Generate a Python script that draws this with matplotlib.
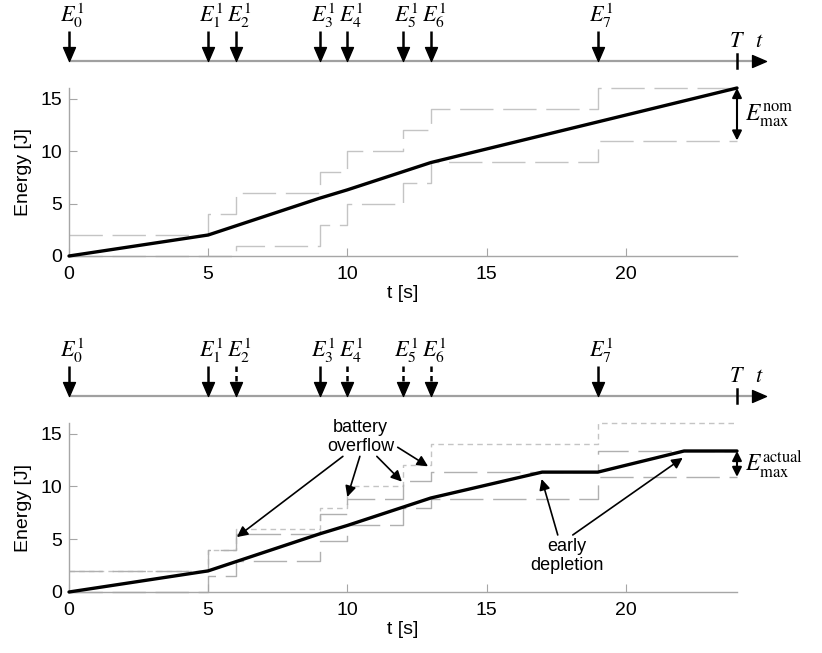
import matplotlib
matplotlib.use("Agg")
import matplotlib.pyplot as plt
from matplotlib.path import Path

plt.rcParams['font.family'] = ['Liberation Sans', 'DejaVu Sans']
plt.rcParams['mathtext.fontset'] = 'stix'

# ---------------- data ----------------
event_times = [0, 5, 6, 9, 10, 12, 13, 19]
event_labels = [r'$E_{%d}^{1}$' % i for i in range(8)]
bottom_dashed_events = [False, False, True, False, True, True, True, False]
horizon_T = 24

step_x = [0, 5, 6, 9, 10, 12, 13, 19, 24]
upper_nominal = [2, 4, 6, 8, 10, 12, 14, 16, 16]
lower_nominal = [0, 0, 1, 3, 5, 7, 9, 11, 11]
upper_actual = [2, 4, 5.5, 7.4, 8.8, 10.5, 11.35, 13.35, 13.35]
lower_actual = [0, 1.5, 2.9, 4.85, 6.3, 8.0, 8.85, 10.9, 10.9]

traj_nom_t = [0, 5, 9, 10, 13, 24]
traj_nom_e = [0, 2, 5.5, 6.3, 8.9, 16]
traj_act_t = [0, 5, 9, 10, 13, 17, 19, 22.1, 24]
traj_act_e = [0, 2, 5.5, 6.3, 8.9, 11.35, 11.35, 13.35, 13.35]

xticks = [0, 5, 10, 15, 20]
yticks = [0, 5, 10, 15]

overflow_text_pos = (10.48, 14.7)
overflow_starts = [(9.84, 12.84), (10.45, 12.84), (11.06, 12.84), (11.81, 13.7)]
overflow_targets = [(6.03, 5.2), (10.0, 9.0), (11.96, 10.45), (12.9, 11.9)]
depletion_text_pos = (17.88, 3.45)
depletion_starts = [(17.56, 5.4), (18.1, 5.4)]
depletion_targets = [(16.98, 10.7), (22.05, 12.7)]

# ---------------- figure ----------------
W, H = 822, 653
fig = plt.figure(figsize=(W / 100, H / 100), dpi=100)

AX_L, AX_R = 69, 737
def frac_rect(top_px, bot_px):
    return [AX_L / W, 1 - bot_px / H, (AX_R - AX_L) / W, (bot_px - top_px) / H]

SPINE = '#a6a6a6'
LIGHT = '#c4c4c4'
MID = '#b0b0b0'
LONG_DASH = (24, 7)
SHORT_DASH = (4, 3)

head_down = Path([(-0.43, 0.5), (0.43, 0.5), (0, -0.5), (-0.43, 0.5)],
                 [Path.MOVETO, Path.LINETO, Path.LINETO, Path.CLOSEPOLY])
head_right = Path([(-0.5, -0.43), (-0.5, 0.43), (0.5, 0), (-0.5, -0.43)],
                  [Path.MOVETO, Path.LINETO, Path.LINETO, Path.CLOSEPOLY])


def timeline(top_px, line_px, dashed_flags):
    ax = fig.add_axes(frac_rect(top_px, top_px + 90))
    ax.set_xlim(0, 24)
    ax.set_ylim(top_px + 90, top_px)
    ax.axis('off')
    x_end = 24.78
    ax.plot([0, x_end], [line_px, line_px], color='#a0a0a0', lw=1.6,
            clip_on=False, solid_capstyle='butt')
    ax.plot([x_end], [line_px], marker=head_right, ms=10, color='black',
            mec='black', clip_on=False, ls='none')
    for t, lab, dsh in zip(event_times, event_labels, dashed_flags):
        ls = (0, (2.2, 1.6)) if dsh else '-'
        ax.plot([t, t], [line_px - 30, line_px - 13], color='black', lw=1.8,
                ls=ls, clip_on=False, solid_capstyle='butt')
        ax.plot([t], [line_px - 7], marker=head_down, ms=10, color='black',
                mec='black', ls='none', clip_on=False)
        ax.text(t + 0.12, line_px - 31, lab, ha='center', va='bottom',
                fontsize=16, clip_on=False)
    ax.plot([horizon_T, horizon_T], [line_px - 7, line_px + 7], color='black',
            lw=1.8, clip_on=False)
    ax.text(horizon_T, line_px - 9, r'$T$', ha='center', va='bottom',
            fontsize=16, clip_on=False)
    ax.text(24.8, line_px - 9, r'$t$', ha='center', va='bottom',
            fontsize=16, clip_on=False)
    return ax


def energy_axes(top_px, bot_px):
    ax = fig.add_axes(frac_rect(top_px, bot_px))
    ax.set_xlim(0, 24)
    ax.set_ylim(0, 16)
    for s in ['top', 'right']:
        ax.spines[s].set_visible(False)
    for s in ['left', 'bottom']:
        ax.spines[s].set_color(SPINE)
        ax.spines[s].set_linewidth(1.0)
        ax.spines[s].set_zorder(1)
    ax.set_xticks(xticks)
    ax.set_yticks(yticks)
    ax.tick_params(direction='in', length=5.5, width=0.8, color=SPINE,
                   labelsize=14)
    ax.tick_params(axis='x', pad=7)
    ax.tick_params(axis='y', pad=5)
    ax.set_xlabel('t [s]', fontsize=14, labelpad=2)
    ax.set_ylabel('Energy [J]', fontsize=14, labelpad=6)
    return ax

# ---- top ----
timeline(0, 61, [False] * 8)
ax1 = energy_axes(88, 256)
ax1.plot(step_x, upper_nominal, drawstyle='steps-post', color=LIGHT, lw=1.0,
         dashes=LONG_DASH, zorder=0, clip_on=False)
ax1.plot(step_x, lower_nominal, drawstyle='steps-post', color=LIGHT, lw=1.0,
         dashes=LONG_DASH, zorder=0, clip_on=False)
ax1.plot(traj_nom_t, traj_nom_e, color='black', lw=2.4, zorder=3,
         solid_capstyle='round', clip_on=False)
ax1.annotate('', xy=(24, upper_nominal[-1]), xytext=(24, lower_nominal[-1]),
             arrowprops=dict(arrowstyle='<|-|>', color='black', lw=1.5,
                             mutation_scale=14, shrinkA=0, shrinkB=0),
             annotation_clip=False)
ax1.text(24.28, (upper_nominal[-1] + lower_nominal[-1]) / 2 - 0.1,
         r'$E_{\mathrm{max}}^{\mathrm{nom}}$', fontsize=17, ha='left',
         va='center')

# ---- bottom ----
timeline(320, 396, bottom_dashed_events)
ax2 = energy_axes(423, 592)
ax2.plot(step_x, upper_nominal, drawstyle='steps-post', color=LIGHT, lw=1.0,
         dashes=SHORT_DASH, zorder=0, clip_on=False)
ax2.plot(step_x, upper_actual, drawstyle='steps-post', color=MID, lw=1.0,
         dashes=LONG_DASH, zorder=0, clip_on=False)
ax2.plot(step_x, lower_actual, drawstyle='steps-post', color=MID, lw=1.0,
         dashes=LONG_DASH, zorder=0, clip_on=False)
ax2.plot(traj_act_t, traj_act_e, color='black', lw=2.4, zorder=3,
         solid_capstyle='round', clip_on=False)
ax2.annotate('', xy=(24, upper_actual[-1]), xytext=(24, lower_actual[-1]),
             arrowprops=dict(arrowstyle='<|-|>', color='black', lw=1.5,
                             mutation_scale=14, shrinkA=0, shrinkB=0),
             annotation_clip=False)
ax2.text(24.28, (upper_actual[-1] + lower_actual[-1]) / 2 - 0.05,
         r'$E_{\mathrm{max}}^{\mathrm{actual}}$', fontsize=17, ha='left',
         va='center')

ax2.text(*overflow_text_pos, 'battery\noverflow', ha='center', va='center',
         fontsize=13, linespacing=1.15)
for s, e in zip(overflow_starts, overflow_targets):
    ax2.annotate('', xy=e, xytext=s,
                 arrowprops=dict(arrowstyle='-|>', color='black', lw=1.2,
                                 mutation_scale=16, shrinkA=0, shrinkB=0))
ax2.text(*depletion_text_pos, 'early\ndepletion', ha='center', va='center',
         fontsize=13, linespacing=1.15)
for s, e in zip(depletion_starts, depletion_targets):
    ax2.annotate('', xy=e, xytext=s,
                 arrowprops=dict(arrowstyle='-|>', color='black', lw=1.2,
                                 mutation_scale=16, shrinkA=0, shrinkB=0))

fig.savefig('out.png', dpi=100)
